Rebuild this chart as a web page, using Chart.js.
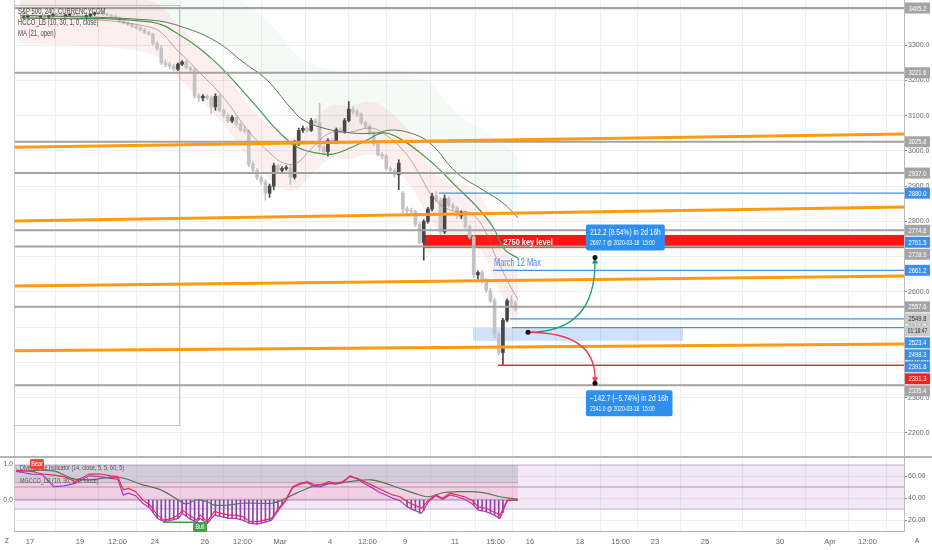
<!DOCTYPE html>
<html>
<head>
<meta charset="utf-8">
<title>S&amp;P 500, 240, CURRENCYCOM</title>
<script src="https://cdn.jsdelivr.net/npm/chart.js"></script>
<style>
  html, body { margin: 0; padding: 0; background: #fff; }
  #wrap { position: relative; width: 932px; height: 550px; overflow: hidden; background: #fff; }
  canvas { position: absolute; left: 0; }
  #main { top: 0; }
  #osc { top: 456px; }
</style>
</head>
<body>
<div id="wrap">
  <canvas id="main" width="932" height="456" style="width:932px;height:456px"></canvas>
  <canvas id="osc" width="932" height="94" style="width:932px;height:94px"></canvas>
</div>
<script>
const FONT = '"Liberation Sans", Arial, sans-serif';
const NARROW = 0.78; // horizontal squeeze for the platform's condensed labels

// x axis: trading days counted from Mon 17 Feb 2020
const X_MIN = -0.64, X_MAX = 34.96;
const tickDays = [0, 2, 3.5, 5, 7, 8.5, 10, 12, 13.5, 15, 17, 18.625, 20, 22, 23.625, 25, 27, 30, 32, 33.5];
const tickLabels = ['17', '19', '12:00', '24', '26', '12:00', 'Mar', '4', '12:00', '9', '11', '15:00', '16', '18', '15:00', '23', '25', '30', 'Apr', '12:00'];
const priceTicks = [2200, 2300, 2400, 2500, 2600, 2700, 2800, 2900, 3000, 3100, 3200, 3300, 3400];

// 4h candles, 6 per trading day
const candleStartDay = -0.25;
const barsPerDay = 6;
const candleOpen = [3378,3380,3383,3381,3379,3382,3380,3384,3386,3385,3383,3385,3387,3386,3384,3381,3383,3388,3391,3389,
  3387,3384,3381,3377,3368,3362,3358,3353,3349,3343,3336,3331,3305,3290,3250,3245,3240,3232,3246,3252,
  3236,3230,3155,3150,3155,3150,3125,3155,3115,3100,3085,3095,3075,3060,3056,2962,2945,2925,2912,2880,
  2900,2958,2945,2950,2952,2925,3020,3058,3064,3058,3086,3080,3010,2998,3030,3028,3060,3055,3086,3118,
  3112,3104,3080,3070,3050,3020,2990,2985,2950,2945,2932,2880,2835,2830,2828,2792,2740,2800,2835,2872,
  2860,2770,2865,2845,2838,2815,2825,2785,2756,2648,2655,2632,2604,2575,2478,2428,2520,2575,2568];
const candleHigh = [3384,3386,3388,3385,3384,3386,3385,3388,3390,3389,3387,3389,3391,3390,3388,3386,3389,3394,3396,3393,
  3391,3388,3385,3380,3372,3366,3362,3357,3353,3347,3340,3334,3310,3300,3258,3252,3246,3250,3256,3256,
  3240,3234,3162,3160,3160,3156,3162,3160,3120,3105,3100,3098,3080,3068,3060,2968,2950,2930,2918,2906,
  2965,2962,2955,2958,2960,3030,3065,3070,3068,3092,3090,3135,3015,3035,3036,3065,3066,3092,3140,3125,
  3118,3108,3085,3074,3055,3025,2996,2990,2956,2950,2975,2885,2842,2838,2832,2798,2805,2840,2880,2885,
  2866,2875,2870,2852,2842,2830,2830,2790,2760,2660,2662,2638,2610,2582,2485,2525,2580,2590,2575];
const candleLow = [3374,3376,3378,3377,3375,3378,3376,3380,3382,3381,3379,3381,3383,3382,3379,3377,3380,3384,3386,3384,
  3382,3378,3374,3365,3360,3355,3350,3346,3340,3332,3328,3300,3285,3245,3238,3232,3228,3228,3242,3232,
  3226,3150,3140,3142,3145,3105,3115,3110,3095,3080,3080,3070,3055,3050,2955,2940,2918,2905,2860,2868,
  2890,2940,2940,2945,2905,2920,3015,3052,3052,3055,3076,3000,2990,2985,3022,3020,3050,3050,3082,3105,
  3098,3075,3065,3045,3015,2985,2978,2945,2938,2925,2890,2825,2822,2820,2785,2735,2690,2795,2830,2855,
  2762,2765,2840,2832,2808,2808,2780,2750,2640,2636,2625,2598,2570,2470,2420,2392,2515,2560,2545];
const candleClose = [3380,3383,3381,3379,3382,3380,3384,3386,3385,3383,3385,3387,3386,3384,3381,3383,3388,3391,3389,3387,
  3384,3381,3377,3368,3362,3358,3353,3349,3343,3336,3331,3305,3290,3250,3245,3240,3232,3246,3252,3236,
  3230,3155,3150,3155,3150,3125,3155,3115,3100,3085,3095,3075,3060,3056,2962,2945,2925,2912,2880,2900,
  2958,2945,2950,2952,2925,3020,3058,3064,3058,3086,3080,3010,2998,3030,3028,3060,3055,3086,3118,3112,
  3104,3080,3070,3050,3020,2990,2985,2950,2945,2932,2965,2835,2830,2828,2792,2740,2800,2835,2872,2860,
  2770,2865,2845,2838,2815,2825,2785,2756,2648,2655,2632,2604,2575,2478,2428,2520,2575,2568,2550];

// moving averages and clouds on the price panel
const slowDays = [-0.4, 4.8, 6.12, 7.48, 8.52, 9.48, 10.4, 10.92, 11.72, 12.8, 13.88, 14.4, 15.2, 16.0, 17.08, 18.12, 18.92, 19.52];
const slowVals = [3385, 3371, 3351, 3309, 3252, 3201, 3124, 3088, 3065, 3051, 3051, 3059, 3051, 3022, 2937, 2889, 2852, 2810];
const cloudTopVals = [3555, 3541, 3521, 3479, 3422, 3371, 3294, 3258, 3235, 3221, 3221, 3229, 3221, 3192, 3107, 3059, 3022, 2980];
const maDays = [-0.4, 4.8, 6.12, 7.2, 8.0, 9.08, 9.88, 10.68, 11.48, 12.12, 12.8, 13.48, 14.12, 14.68, 15.48, 16.28, 17.08, 17.88, 18.52, 19.0, 19.52];
const maVals = [3377, 3366, 3323, 3266, 3210, 3124, 3059, 3011, 2994, 2991, 3008, 3031, 3051, 3039, 3002, 2954, 2897, 2841, 2784, 2719, 2696];
const fastDays = [-0.4, 4.8, 6.0, 6.8, 7.72, 8.8, 9.6, 10.12, 10.68, 11.2, 12.0, 12.8, 13.6, 14.12, 14.92, 15.48, 16.12, 16.8, 17.6, 18.12, 18.6, 19.08, 19.52];
const fastVals = [3380, 3351, 3278, 3221, 3153, 3051, 2994, 2966, 2966, 3002, 3051, 3053, 3065, 3051, 3002, 2946, 2869, 2832, 2824, 2784, 2705, 2634, 2577];
const pinkTopVals = [3455, 3426, 3353, 3296, 3228, 3126, 3069, 3041, 3041, 3077, 3126, 3128, 3140, 3126, 3077, 3021, 2944, 2907, 2899, 2859, 2780, 2709, 2652];
const pinkBottomVals = [3305, 3276, 3203, 3146, 3078, 2976, 2919, 2891, 2891, 2927, 2976, 2978, 2990, 2976, 2927, 2871, 2794, 2757, 2749, 2709, 2630, 2559, 2502];

// drawings
const grayLevels = [3405.2, 3221.6, 3025.8, 2937.0, 2774.8, 2728.9, 2557.6, 2335.4];
const blueLevels = [2880.0, 2661.2, 2523.4, 2498.3];
const blueLevelStart = [16.36, 18.52, 19.2, 19.28];
const redLevel = 2391.8, redLevelStart = 18.72;
const trendStart = [3010, 2801, 2617, 2433];
const trendEnd = [3048, 2841, 2645, 2452];
const keyLevelStart = 15.72, keyLevelTop = 2761.5, keyLevelBottom = 2724, keyLevelTextDay = 19.92;
const marchMaxDay = 18.56, marchMaxPrice = 2682;
const zoneStart = 17.72, zoneEnd = 26.12, zoneTop = 2498.3, zoneBottom = 2461;
const rangeEnd = 5.96, rangeTop = 3414, rangeBottom = 2223;
const projStartDay = 19.92, projEndDay = 22.6;
const projStartPrice = 2485.5, projUpPrice = 2697.7, projDownPrice = 2341.0;
const projUpText = ['212.2 (8.54%) in 2d 16h', '2697.7 @ 2020-03-18  15:00'];
const projDownText = ['\u2212142.7 (\u22125.74%) in 2d 16h', '2341.0 @ 2020-03-18  15:00'];
const badges = [
  { value: 3405.2, text: '3405.2', bg: '#a4a4a4', fg: '#fff' },
  { value: 3221.6, text: '3221.6', bg: '#a4a4a4', fg: '#fff' },
  { value: 3025.8, text: '3025.8', bg: '#a4a4a4', fg: '#fff' },
  { value: 2937.0, text: '2937.0', bg: '#a4a4a4', fg: '#fff' },
  { value: 2880.0, text: '2880.0', bg: '#3d8ee8', fg: '#fff' },
  { value: 2774.8, text: '2774.8', bg: '#a4a4a4', fg: '#fff' },
  { value: 2761.5, text: '2761.5', bg: '#3d8ee8', fg: '#fff' },
  { value: 2728.9, text: '2728.9', bg: '#a4a4a4', fg: '#fff' },
  { value: 2661.2, text: '2661.2', bg: '#3d8ee8', fg: '#fff' },
  { value: 2557.6, text: '2557.6', bg: '#a4a4a4', fg: '#fff' },
  { value: 2549.8, text: '2549.8', bg: '#c9c9c9', fg: '#333' },
  { value: 2549.8, text: '01:18:47', bg: '#c9c9c9', fg: '#333' },
  { value: 2523.4, text: '2523.4', bg: '#3d8ee8', fg: '#fff' },
  { value: 2498.3, text: '2498.3', bg: '#3d8ee8', fg: '#fff' },
  { value: 2391.8, text: '2391.8', bg: '#3d8ee8', fg: '#fff' },
  { value: 2391.3, text: '2391.3', bg: '#ff1f1f', fg: '#fff' },
  { value: 2335.4, text: '2335.4', bg: '#a4a4a4', fg: '#fff' }
];

// oscillator panel
const oscDays = [-0.56,0.08,0.51,0.94,1.37,1.8,2.37,2.8,3.23,3.51,3.73,3.94,4.23,4.51,4.8,5.09,5.37,5.66,5.94,6.09,
  6.37,6.66,6.8,7.09,7.37,7.66,7.94,8.23,8.51,8.8,9.09,9.37,9.66,9.94,10.23,10.51,10.8,11.09,11.37,11.66,
  11.94,12.23,12.51,12.8,13.09,13.37,13.66,13.94,14.23,14.51,14.8,15.09,15.37,15.66,15.94,16.23,16.51,16.8,17.09,17.37,
  17.66,17.94,18.23,18.51,18.8,19.09,19.52];
const redVals = [0.83,0.79,0.72,0.69,0.65,0.51,0.72,0.72,0.67,0.65,0.28,0.32,0.23,0.0,-0.14,-0.42,-0.56,-0.51,-0.42,-0.28,
  -0.42,-0.56,-0.42,-0.60,-0.32,-0.37,-0.42,-0.42,-0.46,-0.60,-0.60,-0.56,-0.51,-0.23,0.0,0.37,0.46,0.51,0.42,0.42,
  0.51,0.46,0.51,0.65,0.60,0.51,0.42,0.32,0.23,0.14,0.09,-0.05,-0.14,-0.23,0.0,0.14,0.05,0.19,0.14,0.09,
  0.0,-0.19,-0.23,-0.32,-0.42,0.0,0.0];
const purpleVals = [0.79,0.72,0.70,0.37,0.39,0.46,0.67,0.65,0.60,0.58,0.14,0.19,0.12,-0.09,-0.23,-0.51,-0.60,-0.56,-0.51,-0.37,
  -0.51,-0.62,-0.51,-0.65,-0.42,-0.46,-0.51,-0.51,-0.56,-0.65,-0.67,-0.62,-0.56,-0.28,-0.02,0.35,0.44,0.48,0.37,0.37,
  0.46,0.44,0.48,0.67,0.58,0.46,0.35,0.23,0.14,0.05,-0.02,-0.19,-0.28,-0.37,-0.05,0.12,0.02,0.14,0.09,0.02,
  -0.09,-0.28,-0.32,-0.40,-0.51,-0.02,0.0];
const signalDays = [-0.56,0.94,1.66,2.37,3.51,4.51,5.23,5.94,6.23,6.66,7.09,7.37,7.94,8.51,9.09,9.66,10.09,10.66,11.09,11.51,
  12.09,12.8,13.66,14.23,14.8,15.37,15.94,16.51,17.09,17.66,18.23,18.8,19.52];
const signalVals = [0.79,0.81,0.60,0.56,0.63,0.42,0.28,0.0,-0.11,0.0,-0.05,-0.14,-0.14,-0.09,-0.09,-0.09,0.0,0.19,0.32,0.42,
  0.46,0.51,0.56,0.46,0.32,0.19,0.09,0.20,0.23,0.23,0.19,0.09,0.02];
const histFirstBar = [30, 92, 108];
const histVals = [
  [-0.20,-0.35,-0.50,-0.57,-0.60,-0.56,-0.54,-0.51,-0.37,-0.45,-0.53,-0.60,-0.55,-0.58,-0.65,-0.50,-0.43,-0.45,-0.48,-0.51,
   -0.51,-0.52,-0.55,-0.58,-0.64,-0.66,-0.67,-0.64,-0.61,-0.57,-0.45,-0.30,-0.12],
  [-0.19,-0.25,-0.30,-0.37,-0.30],
  [-0.15,-0.26,-0.30,-0.33,-0.38,-0.42,-0.51,-0.35]
];
const divDays = [5.32, 6.64], divVals = [-0.62, -0.62];
const oscEndDay = 19.52;
const bearDay = 0.28, bearLevel = 1.0, bullDay = 6.8, bullLevel = -0.75;

Chart.defaults.font.family = FONT;
Chart.defaults.animation = false;

const barDay = i => candleStartDay + i / barsPerDay;
const pts = (days, vals) => days.map((d, i) => ({ x: d, y: vals[i] }));
const flat = (v, a, b) => [{ x: a, y: v }, { x: b, y: v }];

function text(ctx, str, x, y, size, color, bold, align, squeeze) {
  const sx = squeeze || NARROW;
  ctx.save();
  ctx.font = (bold ? 'bold ' : '') + size + 'px ' + FONT;
  ctx.fillStyle = color;
  ctx.textAlign = align || 'left';
  ctx.textBaseline = 'middle';
  ctx.translate(x, y);
  ctx.scale(sx, 1);
  ctx.fillText(str, 0, 0);
  ctx.restore();
}

function textWidth(ctx, str, size) {
  ctx.font = size + 'px ' + FONT;
  return ctx.measureText(str).width * NARROW;
}

function rrect(ctx, x, y, w, h, r) {
  ctx.beginPath();
  ctx.moveTo(x + r, y);
  ctx.arcTo(x + w, y, x + w, y + h, r);
  ctx.arcTo(x + w, y + h, x, y + h, r);
  ctx.arcTo(x, y + h, x, y, r);
  ctx.arcTo(x, y, x + w, y, r);
  ctx.closePath();
}

function infoBox(ctx, left, top, lines) {
  const w = Math.max(textWidth(ctx, lines[0], 8.5), textWidth(ctx, lines[1], 6.5)) + 8;
  ctx.fillStyle = '#2f8ff0';
  rrect(ctx, left, top, w, 26, 2);
  ctx.fill();
  text(ctx, lines[0], left + 4, top + 8, 8.5, '#fff');
  text(ctx, lines[1], left + 4, top + 19, 6.5, '#fff');
}

function dot(ctx, x, y) {
  ctx.fillStyle = '#111';
  ctx.beginPath();
  ctx.arc(x, y, 2.5, 0, Math.PI * 2);
  ctx.fill();
}

const candleColors = candleOpen.map((o, i) => candleClose[i] >= o ? '#474747' : '#c3c3c3');

const mainOverlay = {
  id: 'mainOverlay',
  beforeDatasetsDraw(chart) {
    const { ctx, chartArea: a, scales: { x, y } } = chart;
    ctx.save();
    // old range frame
    ctx.strokeStyle = '#c4c4c4';
    ctx.lineWidth = 1;
    const rx = Math.round(x.getPixelForValue(rangeEnd)) + 0.5;
    const r1 = Math.round(y.getPixelForValue(rangeTop)) + 0.5;
    const r2 = Math.round(y.getPixelForValue(rangeBottom)) + 0.5;
    ctx.strokeRect(a.left + 0.5, r1, rx - a.left - 0.5, r2 - r1);
    // key level box
    const kx = x.getPixelForValue(keyLevelStart);
    const k1 = y.getPixelForValue(keyLevelTop), k2 = y.getPixelForValue(keyLevelBottom);
    ctx.fillStyle = '#ff1414';
    ctx.fillRect(kx, k1, a.right - kx, k2 - k1);
    // projection zone
    const zx1 = x.getPixelForValue(zoneStart), zx2 = x.getPixelForValue(zoneEnd);
    const z1 = y.getPixelForValue(zoneTop), z2 = y.getPixelForValue(zoneBottom);
    ctx.fillStyle = 'rgba(66,140,230,0.25)';
    ctx.fillRect(zx1, z1, zx2 - zx1, z2 - z1);
    ctx.restore();
  },
  afterDatasetsDraw(chart) {
    const { ctx, scales: { x, y } } = chart;
    ctx.save();
    const k1 = y.getPixelForValue(keyLevelTop), k2 = y.getPixelForValue(keyLevelBottom);
    text(ctx, '2750 key level', x.getPixelForValue(keyLevelTextDay), (k1 + k2) / 2 + 0.5, 9.5, '#fff', true, 'center');
    text(ctx, 'March 12 Max', x.getPixelForValue(marchMaxDay), y.getPixelForValue(marchMaxPrice), 10, '#3d8ee8', false, 'left', 0.74);

    const sx = x.getPixelForValue(projStartDay), sy = y.getPixelForValue(projStartPrice);
    const ex = x.getPixelForValue(projEndDay);
    const eu = y.getPixelForValue(projUpPrice), ed = y.getPixelForValue(projDownPrice);
    ctx.lineWidth = 1.3;
    [[eu, '#169a7a', -1], [ed, '#f23645', 1]].forEach(([ey, col, dir]) => {
      ctx.strokeStyle = col;
      ctx.beginPath();
      ctx.moveTo(sx, sy);
      ctx.quadraticCurveTo(ex, sy, ex, ey - dir * 5);
      ctx.stroke();
      ctx.fillStyle = col;
      ctx.beginPath();
      ctx.moveTo(ex, ey);
      ctx.lineTo(ex - 3, ey - dir * 6);
      ctx.lineTo(ex + 3, ey - dir * 6);
      ctx.closePath();
      ctx.fill();
      dot(ctx, ex, ey);
    });
    dot(ctx, sx, sy);
    infoBox(ctx, ex - 9, eu - 33, projUpText);
    infoBox(ctx, ex - 9, ed + 7, projDownText);
    ctx.restore();
  },
  afterDraw(chart) {
    const { ctx, chartArea: a, scales: { y } } = chart;
    ctx.save();
    ctx.fillStyle = '#fff';
    ctx.fillRect(0, 0, a.left, chart.height);
    ctx.fillStyle = '#c9c9c9';
    ctx.fillRect(a.left, 0, 1, chart.height);
    text(ctx, 'S&P 500, 240, CURRENCYCOM', a.left + 4, 12, 9, '#4a4a4a', false, 'left', 0.66);
    text(ctx, 'HCCO_LB (10, 30, 1, 0, close)', a.left + 4, 23, 9, '#4a4a4a', false, 'left', 0.66);
    text(ctx, 'MA (21, open)', a.left + 4, 34, 9, '#4a4a4a', false, 'left', 0.66);
    // price badges on the scale, pushed apart like the platform does
    let last = -Infinity;
    badges.map(b => ({ ...b, py: y.getPixelForValue(b.value) }))
      .sort((p, q) => p.py - q.py)
      .forEach(b => {
        if (b.py < last + 12) b.py = last + 12;
        last = b.py;
        ctx.fillStyle = b.bg;
        ctx.fillRect(a.right + 1, b.py - 5.5, 25, 11);
        text(ctx, b.text, a.right + 13.5, b.py + 0.5, 7.5, b.fg, false, 'center', b.text.length > 6 ? 0.66 : 0.78);
      });
    ctx.restore();
  }
};

const mainDatasets = [
  { type: 'line', data: pts(slowDays, cloudTopVals), borderWidth: 0, pointRadius: 0, tension: 0.4, fill: false, order: 20 },
  { type: 'line', data: pts(slowDays, slowVals), borderWidth: 0, pointRadius: 0, tension: 0.4, fill: '-1', backgroundColor: 'rgba(76,175,80,0.06)', order: 20 },
  { type: 'line', data: pts(fastDays, pinkTopVals), borderWidth: 0, pointRadius: 0, tension: 0.4, fill: false, order: 19 },
  { type: 'line', data: pts(fastDays, pinkBottomVals), borderWidth: 0, pointRadius: 0, tension: 0.4, fill: '-1', backgroundColor: 'rgba(239,83,80,0.09)', order: 19 },
  { type: 'bar', data: candleLow.map((l, i) => ({ x: barDay(i), y: [l, candleHigh[i]] })), backgroundColor: candleColors, barThickness: 1, grouped: false, order: 9 },
  { type: 'bar', data: candleOpen.map((o, i) => ({ x: barDay(i), y: [o, candleClose[i]] })), backgroundColor: candleColors, barThickness: 3, minBarLength: 1, grouped: false, order: 8 },
  { type: 'line', data: pts(fastDays, fastVals), borderColor: 'rgba(150,100,90,0.7)', borderWidth: 0.8, pointRadius: 0, tension: 0.4, fill: false, order: 6 },
  { type: 'line', data: pts(slowDays, slowVals), borderColor: '#5f7454', borderWidth: 1, pointRadius: 0, tension: 0.4, fill: false, order: 6 },
  { type: 'line', data: pts(maDays, maVals), borderColor: '#3f9f4a', borderWidth: 1.2, pointRadius: 0, tension: 0.4, fill: false, order: 6 }
];
grayLevels.forEach(v => mainDatasets.push({ type: 'line', data: flat(v, X_MIN, X_MAX), borderColor: '#a2a2a2', borderWidth: 2, pointRadius: 0, order: 4 }));
blueLevels.forEach((v, i) => mainDatasets.push({ type: 'line', data: flat(v, blueLevelStart[i], X_MAX), borderColor: '#4a8fe0', borderWidth: 1.3, pointRadius: 0, order: 4 }));
mainDatasets.push({ type: 'line', data: flat(redLevel, redLevelStart, X_MAX), borderColor: '#e0343f', borderWidth: 1.5, pointRadius: 0, order: 4 });
trendStart.forEach((v, i) => mainDatasets.push({ type: 'line', data: [{ x: X_MIN, y: v }, { x: X_MAX, y: trendEnd[i] }], borderColor: '#ff9a12', borderWidth: 3, pointRadius: 0, order: 3 }));

const xScaleBase = {
  type: 'linear', min: X_MIN, max: X_MAX, offset: false,
  afterBuildTicks: s => { s.ticks = tickDays.map(v => ({ value: v })); }
};

new Chart(document.getElementById('main'), {
  type: 'line',
  data: { datasets: mainDatasets },
  options: {
    responsive: false,
    layout: { padding: { left: 14, top: 0, right: 0, bottom: 0 } },
    plugins: { legend: { display: false }, tooltip: { enabled: false } },
    scales: {
      x: { ...xScaleBase,
        grid: { color: '#eceef2', drawTicks: false },
        border: { display: false },
        ticks: { display: false },
        afterFit: s => { s.height = 0; s.paddingLeft = 0; s.paddingRight = 0; } },
      y: { type: 'linear', position: 'right', min: 2134.4, max: 3428,
        afterBuildTicks: s => { s.ticks = priceTicks.map(v => ({ value: v })); },
        grid: { color: '#eceef2', tickLength: 3, tickColor: '#888' },
        border: { display: true, color: '#b9bcc4' },
        ticks: { callback: v => v.toFixed(1), font: { size: 7 }, color: '#666', padding: 1 },
        afterFit: s => { s.width = 28; s.paddingTop = 0; s.paddingBottom = 0; } }
    }
  },
  plugins: [mainOverlay]
});

const oscOverlay = {
  id: 'oscOverlay',
  afterDatasetsDraw(chart) {
    const { ctx, chartArea: a, scales: { x, yL } } = chart;
    ctx.save();
    text(ctx, 'Divergence Indicator (14, close, 5, 5, 60, 5)', a.left + 6, 12, 8, '#555', false, 'left', 0.68);
    text(ctx, 'MGCCO_LB (10, 30, 1, 0, close)', a.left + 6, 25, 8, '#555', false, 'left', 0.68);
    [['Bear', bearDay, bearLevel, '#f44336'], ['Bull', bullDay, bullLevel, '#43a047']].forEach(([t, d, v, c]) => {
      const px = x.getPixelForValue(d), py = yL.getPixelForValue(v);
      ctx.fillStyle = c;
      rrect(ctx, px - 7, py - 5, 14, 10, 1.5);
      ctx.fill();
      text(ctx, t, px, py + 0.5, 7, '#fff', false, 'center');
    });
    ctx.restore();
  },
  afterDraw(chart) {
    const { ctx, chartArea: a } = chart;
    ctx.save();
    ctx.fillStyle = '#c9c9c9';
    ctx.fillRect(a.left, 0, 1, a.bottom);
    ctx.fillStyle = '#b5b5b5';
    ctx.fillRect(0, 0, chart.width, 2);
    text(ctx, 'Z', 7, a.bottom + 10, 8, '#555', false, 'center');
    text(ctx, 'A', 917, a.bottom + 10, 8, '#555', false, 'center');
    ctx.restore();
  }
};

const oscDatasets = [
  { type: 'line', yAxisID: 'y', data: flat(70, X_MIN, X_MAX), borderColor: '#b9adc2', borderWidth: 1, pointRadius: 0, fill: false, order: 20 },
  { type: 'line', yAxisID: 'y', data: flat(30, X_MIN, X_MAX), borderColor: '#b9adc2', borderWidth: 1, pointRadius: 0, fill: '-1', backgroundColor: 'rgba(200,140,220,0.2)', order: 20 },
  { type: 'line', yAxisID: 'y', data: flat(70, X_MIN, oscEndDay), borderWidth: 0, pointRadius: 0, fill: false, order: 19 },
  { type: 'line', yAxisID: 'y', data: flat(54, X_MIN, oscEndDay), borderColor: '#c7a9bb', borderWidth: 1, pointRadius: 0, fill: '-1', backgroundColor: 'rgba(150,150,165,0.35)', order: 19 },
  { type: 'line', yAxisID: 'y', data: flat(38.2, X_MIN, oscEndDay), borderWidth: 0, pointRadius: 0, fill: '-1', backgroundColor: 'rgba(240,98,146,0.2)', order: 18 },
  { type: 'line', yAxisID: 'y', data: flat(50, X_MIN, X_MAX), borderColor: '#9e9e9e', borderWidth: 1, pointRadius: 0, order: 17 },
  { type: 'line', yAxisID: 'yL', data: flat(0, X_MIN, oscEndDay), borderColor: '#9a8aa6', borderWidth: 1, pointRadius: 0, order: 16 }
];
histFirstBar.forEach((first, r) => oscDatasets.push({
  type: 'bar', yAxisID: 'yL', data: histVals[r].map((v, k) => ({ x: barDay(first + k), y: [0, v] })),
  backgroundColor: '#8e3fae', barThickness: 1, grouped: false, order: 10
}));
oscDatasets.push(
  { type: 'line', yAxisID: 'yL', data: pts(signalDays, signalVals), borderColor: '#4f7a55', borderWidth: 1.2, pointRadius: 0, tension: 0.4, order: 5 },
  { type: 'line', yAxisID: 'yL', data: pts(oscDays, purpleVals), borderColor: '#a23bc9', borderWidth: 1.2, pointRadius: 0, order: 4 },
  { type: 'line', yAxisID: 'yL', data: pts(oscDays, redVals), borderColor: '#ef2b4a', borderWidth: 1.2, pointRadius: 0, order: 3 },
  { type: 'line', yAxisID: 'yL', data: pts(divDays, divVals), borderColor: '#43a047', borderWidth: 1.5, pointRadius: 0, order: 2 }
);

new Chart(document.getElementById('osc'), {
  type: 'line',
  data: { datasets: oscDatasets },
  options: {
    responsive: false,
    layout: { padding: 0 },
    plugins: { legend: { display: false }, tooltip: { enabled: false } },
    scales: {
      x: { ...xScaleBase,
        grid: { color: '#eceef2', drawTicks: false },
        border: { display: true, color: '#b5b5b5', width: 1 },
        ticks: { callback: (v, i) => tickLabels[i], autoSkip: false, maxRotation: 0, font: { size: 7.5 }, color: '#666', padding: 6 },
        afterFit: s => { s.height = 19; s.paddingLeft = 0; s.paddingRight = 0; } },
      y: { type: 'linear', position: 'right', min: 10, max: 78.2,
        afterBuildTicks: s => { s.ticks = [20, 40, 60].map(v => ({ value: v })); },
        grid: { color: '#eceef2', tickLength: 3, tickColor: '#888' },
        border: { display: true, color: '#b9bcc4' },
        ticks: { callback: v => v.toFixed(2), font: { size: 7 }, color: '#666', padding: 1 },
        afterFit: s => { s.width = 28; s.paddingTop = 0; s.paddingBottom = 0; } },
      yL: { type: 'linear', position: 'left', min: -0.86, max: 1.22,
        afterBuildTicks: s => { s.ticks = [0, 1].map(v => ({ value: v })); },
        grid: { display: false, drawTicks: false },
        border: { display: false },
        ticks: { callback: v => v.toFixed(1), font: { size: 7 }, color: '#666', padding: 1 },
        afterFit: s => { s.width = 14; s.paddingTop = 0; s.paddingBottom = 0; } }
    }
  },
  plugins: [oscOverlay]
});
</script>
</body>
</html>
